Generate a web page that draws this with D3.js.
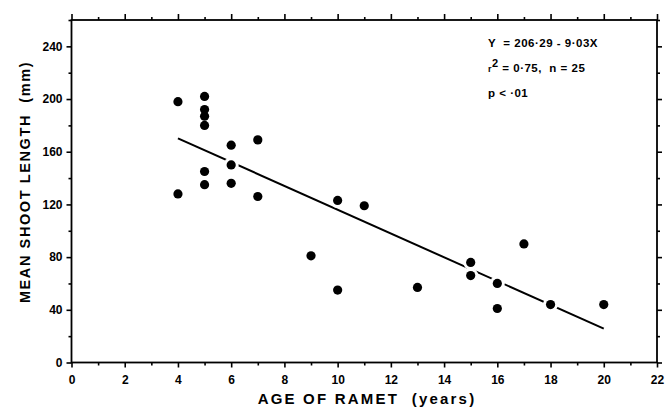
<!DOCTYPE html>
<html><head><meta charset="utf-8">
<script src="https://cdn.jsdelivr.net/npm/d3@7"></script>
<style>body{margin:0;background:#fff}svg{display:block}text{white-space:pre}</style>
</head><body>
<script>
const ages = [4,4,5,5,5,5,5,5,6,6,6,7,7,9,10,10,11,13,15,15,16,16,17,18,20];
const lengths = [198,128,202,192,187,180,145,135,165,150,136,169,126,81,123,55,119,57,76,66,60,41,90,44,44];
const fitIntercept = 206.29, fitSlope = -9.03, fitRange = [4, 20];
const xMajor = [0,2,4,6,8,10,12,14,16,18,20,22];
const xMinor = [1,3,5,7,9,11,13,15,17,19,21];
const yMajor = [0,40,80,120,160,200,240];
const yMinor = [20,60,100,140,180,220,260];
const annot = ["Y  = 206·29 - 9·03X", "r", "2", " = 0·75,  n = 25", "p < ·01"];
const xTitle = "AGE OF RAMET  (years)", yTitle = "MEAN SHOOT LENGTH  (mm)";

const W = 666, H = 414;
const svg = d3.select("body").append("svg").attr("width", W).attr("height", H)
  .style("font-family", "'Liberation Sans', Arial, sans-serif").style("font-weight", "bold");
const x = d3.scaleLinear().domain([0, 22]).range([71.5, 657]);
const y = d3.scaleLinear().domain([0, 260]).range([362.5, 20]);

function ax(gen, tf, vals, size, pad, showLabels) {
  const g = svg.append("g").attr("transform", tf)
    .call(gen.tickValues(vals).tickSize(size).tickSizeOuter(0).tickPadding(pad)
      .tickFormat(showLabels ? d3.format("d") : ""));
  g.select(".domain").remove();
  g.selectAll("line").attr("stroke", "#000").attr("stroke-width", 1.6);
  g.selectAll("text").attr("font-size", 12).attr("fill", "#000").attr("font-family", "inherit");
  return g;
}
// bottom
ax(d3.axisBottom(x), `translate(0,${y(0)})`, xMajor, 5, 8, true);
ax(d3.axisBottom(x), `translate(0,${y(0)})`, xMinor, 3, 0, false);
// top
ax(d3.axisTop(x), `translate(0,${y(260)})`, xMajor, 6, 0, false);
ax(d3.axisTop(x), `translate(0,${y(260)})`, xMinor, 3, 0, false);
// left
ax(d3.axisLeft(y), `translate(${x(0)},0)`, yMajor, 5, 4, true);
ax(d3.axisLeft(y), `translate(${x(0)},0)`, yMinor, 3, 0, false);
// right
ax(d3.axisRight(y), `translate(${x(22)},0)`, yMajor, 5, 0, false);
ax(d3.axisRight(y), `translate(${x(22)},0)`, yMinor, 3, 0, false);

svg.append("rect").attr("x", x(0)).attr("y", y(260))
  .attr("width", x(22) - x(0)).attr("height", y(0) - y(260))
  .attr("fill", "none").attr("stroke", "#000").attr("stroke-width", 1.8);

// regression line
svg.append("line")
  .attr("x1", x(fitRange[0])).attr("y1", y(fitIntercept + fitSlope * fitRange[0]))
  .attr("x2", x(fitRange[1])).attr("y2", y(fitIntercept + fitSlope * fitRange[1]))
  .attr("stroke", "#000").attr("stroke-width", 2);

const pts = ages.map((a, i) => ({a, l: lengths[i]}));
svg.append("g").selectAll("circle").data(pts).join("circle")
  .attr("cx", d => x(d.a)).attr("cy", d => y(d.l)).attr("r", 7.5).attr("fill", "#fff");
svg.append("g").selectAll("circle").data(pts).join("circle")
  .attr("cx", d => x(d.a)).attr("cy", d => y(d.l)).attr("r", 4.6).attr("fill", "#000");

// annotation
const at = svg.append("g").attr("font-size", 11.5).attr("fill", "#000").attr("letter-spacing", 0.5);
at.append("text").attr("x", 488).attr("y", 47).text(annot[0]);
const t2 = at.append("text").attr("x", 488).attr("y", 72);
t2.append("tspan").attr("font-size", 9).text(annot[1]);
t2.append("tspan").attr("dy", -5).attr("font-size", 11).text(annot[2]);
t2.append("tspan").attr("dy", 5).text(annot[3]);
at.append("text").attr("x", 488).attr("y", 97).text(annot[4]);

// titles
svg.append("text").attr("x", 367).attr("y", 404).attr("text-anchor", "middle")
  .attr("font-size", 15).attr("letter-spacing", 2.2).text(xTitle);
svg.append("text").attr("transform", "translate(30,182) rotate(-90)").attr("text-anchor", "middle")
  .attr("font-size", 14.5).attr("letter-spacing", 1.6).text(yTitle);
</script>
</body></html>
